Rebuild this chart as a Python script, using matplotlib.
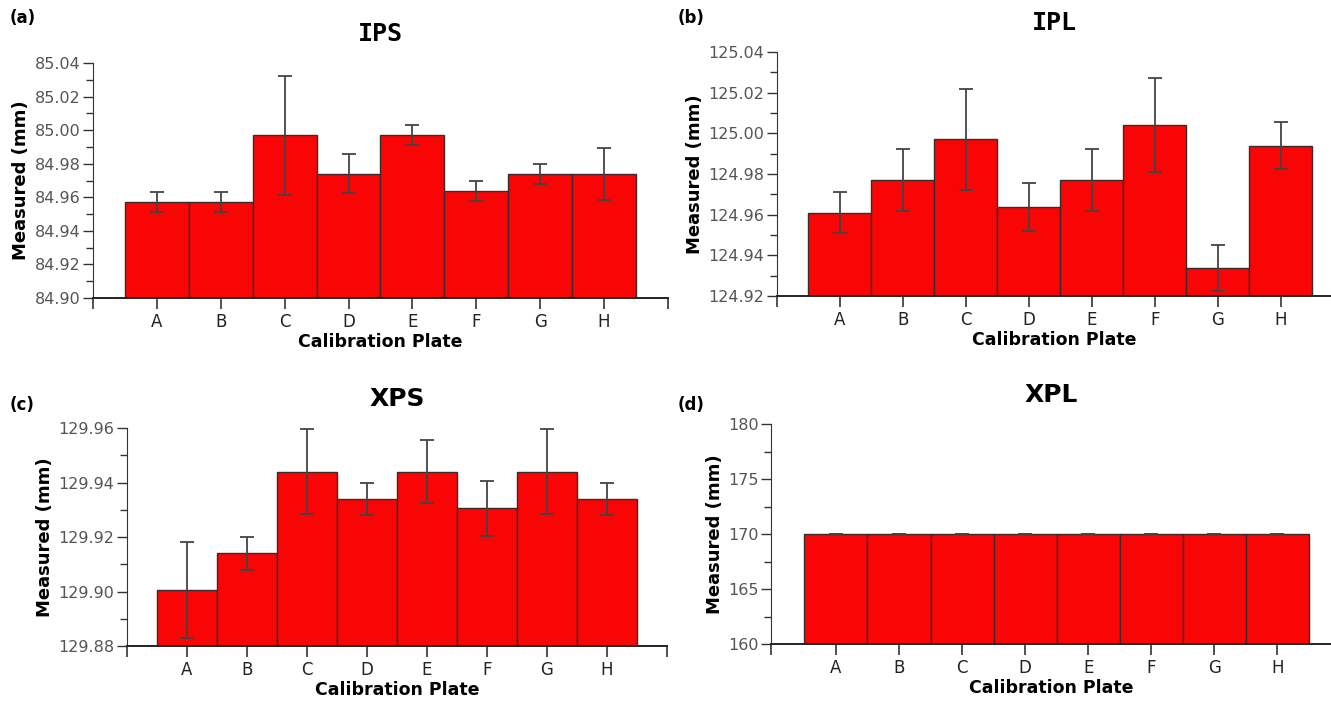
import numpy as np
import matplotlib
matplotlib.use("Agg")
import matplotlib.pyplot as plt
from matplotlib.ticker import MultipleLocator

plates = ["A", "B", "C", "D", "E", "F", "G", "H"]

ips_mean = [84.957, 84.957, 84.997, 84.974, 84.997, 84.964, 84.974, 84.974]
ips_err = [0.006, 0.006, 0.0355, 0.0115, 0.006, 0.006, 0.006, 0.0155]

ipl_mean = [124.961, 124.977, 124.997, 124.964, 124.977, 125.004, 124.934, 124.994]
ipl_err = [0.010, 0.0154, 0.025, 0.0118, 0.0154, 0.023, 0.0113, 0.0116]

xps_mean = [129.9005, 129.914, 129.944, 129.934, 129.944, 129.9305, 129.944, 129.934]
xps_err = [0.0175, 0.006, 0.0155, 0.006, 0.0117, 0.010, 0.0157, 0.006]

xpl_mean = [170.0, 170.0, 170.0, 170.0, 170.0, 170.0, 170.0, 170.0]
xpl_err = [0.02, 0.02, 0.02, 0.02, 0.02, 0.02, 0.02, 0.02]

W, H = 1331, 705
fig = plt.figure(figsize=(W / 100, H / 100), dpi=100)


def box(left, top, right, bottom):
    # pixel box -> figure fraction
    return [left / W, 1 - bottom / H, (right - left) / W, (bottom - top) / H]


panels = [
    dict(tag="(a)", title="IPS", mean=ips_mean, err=ips_err,
         rect=box(93, 63, 668, 298), ylim=(84.90, 85.04), major=0.02, minor=0.01,
         fmt="{:.2f}", xlim=(-1, 8), tfont="DejaVu Sans Mono", tagpos=(10, 18)),
    dict(tag="(b)", title="IPL", mean=ipl_mean, err=ipl_err,
         rect=box(777, 52, 1331, 296), ylim=(124.92, 125.04), major=0.02, minor=0.01,
         fmt="{:.2f}", xlim=(-1, 7.8), tfont="DejaVu Sans Mono", tagpos=(678, 18)),
    dict(tag="(c)", title="XPS", mean=xps_mean, err=xps_err,
         rect=box(127, 428, 667, 646), ylim=(129.88, 129.96), major=0.02, minor=0.01,
         fmt="{:.2f}", xlim=(-1, 8), tfont="DejaVu Sans", tagpos=(10, 405)),
    dict(tag="(d)", title="XPL", mean=xpl_mean, err=xpl_err,
         rect=box(771, 424, 1331, 644), ylim=(160, 180), major=5, minor=2.5,
         fmt="{:.0f}", xlim=(-1.03, 7.85), tfont="DejaVu Sans", tagpos=(678, 405)),
]

x = np.arange(len(plates))

for p in panels:
    ax = fig.add_axes(p["rect"])
    lo = p["ylim"][0]
    heights = np.array(p["mean"]) - lo
    ax.bar(x, heights, bottom=lo, width=1.0, color="#fa0505",
           edgecolor="#3a2a2a", linewidth=1.0, zorder=2)
    ax.errorbar(x, p["mean"], yerr=p["err"], fmt="none", ecolor="#444444",
                elinewidth=1.3, capsize=5, capthick=1.3, zorder=3)
    ax.set_xlim(*p["xlim"])
    ax.set_ylim(*p["ylim"])

    ax.spines["top"].set_visible(False)
    ax.spines["right"].set_visible(False)
    ax.spines["left"].set_color("#333333")
    ax.spines["bottom"].set_color("#222222")
    ax.spines["bottom"].set_linewidth(1.4)

    ax.yaxis.set_major_locator(MultipleLocator(p["major"]))
    ax.yaxis.set_minor_locator(MultipleLocator(p["minor"]))
    ax.set_yticks(ax.get_yticks())
    ax.set_ylim(*p["ylim"])
    ax.set_yticklabels([p["fmt"].format(v) for v in ax.get_yticks()],
                       fontsize=11.5, color="#555555")
    ax.tick_params(axis="y", which="major", length=7, width=1, color="#333333", pad=2)
    ax.tick_params(axis="y", which="minor", length=5, width=1, color="#333333")

    xt = [p["xlim"][0]] + list(x)
    if p["xlim"][1] >= 7.99:
        xt = xt + [8]
    labels = [plates[int(t)] if 0 <= t <= 7 else "" for t in xt]
    ax.set_xticks(xt)
    ax.set_xticklabels(labels, fontsize=12, color="#222222")
    ax.tick_params(axis="x", length=8, width=1.2, color="#333333", pad=3)

    ax.set_xlabel("Calibration Plate", fontsize=12.5, fontweight="bold", labelpad=1)
    ax.set_ylabel("Measured (mm)", fontsize=13, fontweight="bold", labelpad=3)
    ax.set_title(p["title"], fontsize=18, fontweight="bold",
                 family=p["tfont"], pad=16)

    fig.text(p["tagpos"][0] / W, 1 - p["tagpos"][1] / H, p["tag"],
             fontsize=12, fontweight="bold", va="center", ha="left")

fig.savefig("out.png", dpi=100)
